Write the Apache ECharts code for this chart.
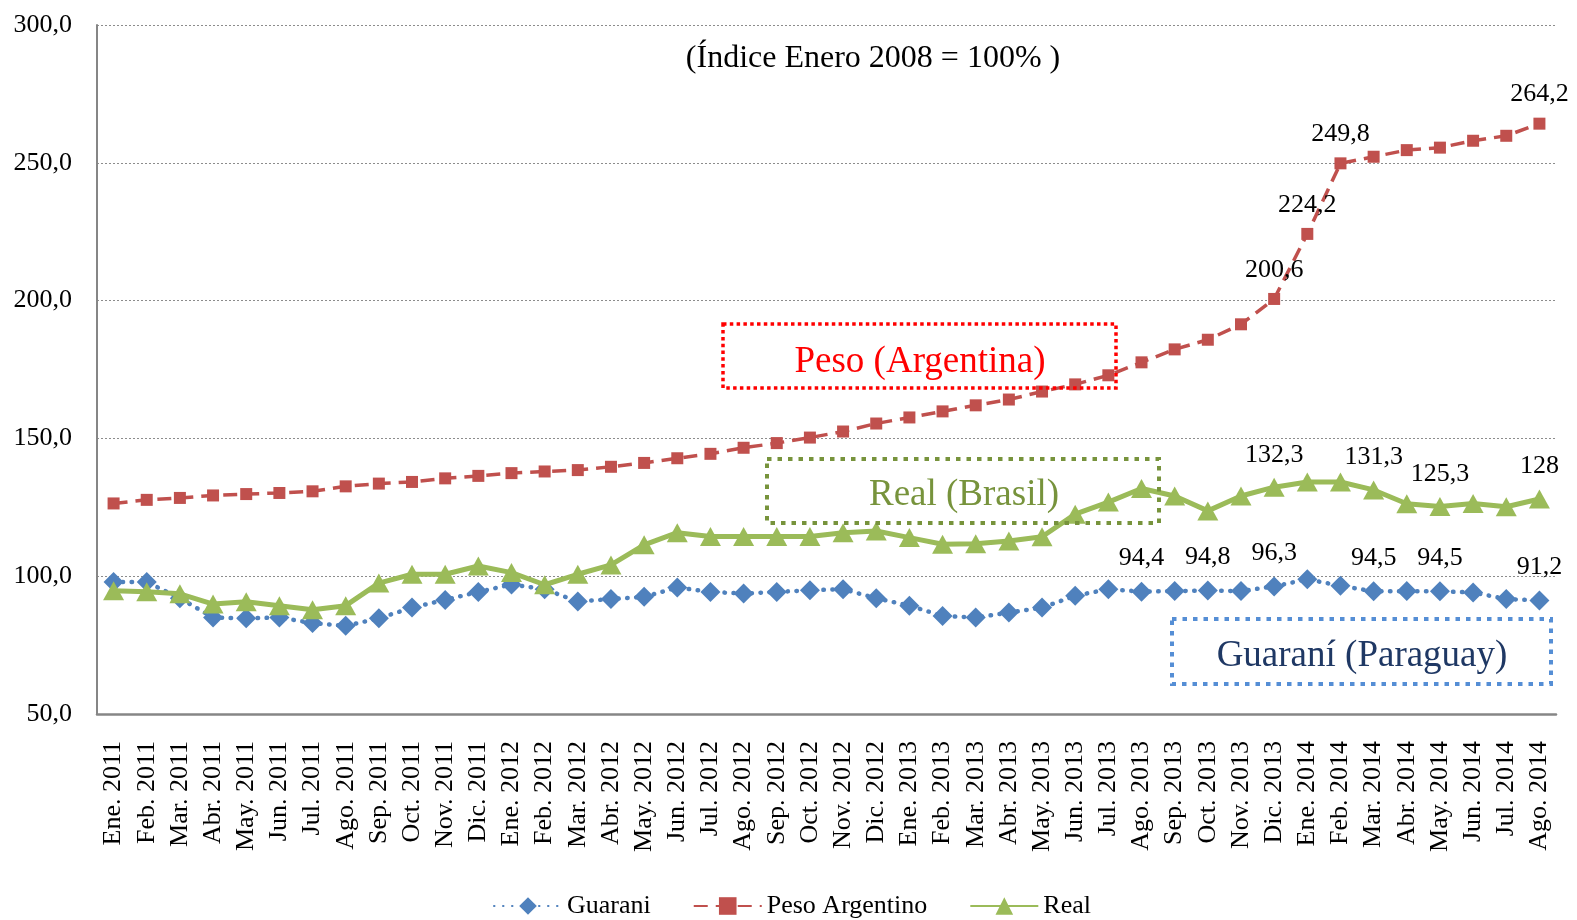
<!DOCTYPE html>
<html>
<head>
<meta charset="utf-8">
<script src="https://cdn.jsdelivr.net/npm/echarts@6/dist/echarts.min.js"></script>
<style>
html,body{margin:0;padding:0;background:#fff;}
#chart{width:1577px;height:920px;}
</style>
</head>
<body>
<div id="chart"></div>
<script>
const categories = [
  'Ene. 2011','Feb. 2011','Mar. 2011','Abr. 2011','May. 2011','Jun. 2011','Jul. 2011','Ago. 2011','Sep. 2011','Oct. 2011','Nov. 2011','Dic. 2011',
  'Ene. 2012','Feb. 2012','Mar. 2012','Abr. 2012','May. 2012','Jun. 2012','Jul. 2012','Ago. 2012','Sep. 2012','Oct. 2012','Nov. 2012','Dic. 2012',
  'Ene. 2013','Feb. 2013','Mar. 2013','Abr. 2013','May. 2013','Jun. 2013','Jul. 2013','Ago. 2013','Sep. 2013','Oct. 2013','Nov. 2013','Dic. 2013',
  'Ene. 2014','Feb. 2014','Mar. 2014','Abr. 2014','May. 2014','Jun. 2014','Jul. 2014','Ago. 2014'
];
const seriesNames = ['Guarani', 'Peso Argentino', 'Real'];
const guarani = [
  97.9, 97.9, 92.0, 85.0, 84.7, 85.0, 83.0, 82.0, 84.7, 88.6, 91.4, 94.3,
  97.0, 95.3, 90.8, 91.7, 92.5, 95.9, 94.3, 93.7, 94.3, 94.9, 95.3, 92.0,
  89.3, 85.6, 85.0, 86.8, 88.6, 92.9, 95.3, 94.4, 94.6, 94.8, 94.6, 96.3,
  98.9, 96.5, 94.5, 94.6, 94.5, 94.1, 91.7, 91.2
];
const peso = [
  126.4, 127.7, 128.4, 129.3, 129.8, 130.2, 130.8, 132.6, 133.6, 134.2, 135.5, 136.4,
  137.4, 138.0, 138.5, 139.7, 141.1, 142.8, 144.4, 146.6, 148.3, 150.3, 152.5, 155.4,
  157.6, 159.8, 162.0, 164.1, 167.0, 169.6, 172.9, 177.6, 182.3, 185.8, 191.4, 200.6,
  224.2, 249.8, 252.2, 254.6, 255.5, 258.0, 259.8, 264.2
];
const real = [
  94.7, 94.4, 93.6, 89.9, 90.7, 89.3, 87.8, 89.3, 97.5, 100.7, 100.7, 103.7,
  101.3, 96.9, 100.7, 104.1, 111.4, 115.8, 114.4, 114.4, 114.4, 114.4, 115.8, 116.4,
  114.0, 111.6, 111.8, 112.8, 114.3, 122.5, 126.9, 131.8, 129.1, 123.7, 129.1, 132.3,
  134.2, 134.2, 131.3, 126.3, 125.3, 126.4, 125.2, 128
];
const guaraniLabelIdx = [31, 33, 35, 38, 40, 43];
const pesoLabelIdx = [35, 36, 37, 43];
const realLabelIdx = [35, 38, 40, 43];
const yTicks = [50, 100, 150, 200, 250, 300];
const subtitle = '(Índice Enero 2008 = 100% )';
const boxTexts = ['Peso (Argentina)', 'Real (Brasil)', 'Guaraní (Paraguay)'];

const FONT = "'Liberation Serif','Times New Roman',serif";
const fmt = v => String(v).replace('.', ',');
function withLabels(arr, idx) {
  return arr.map((v, i) => idx.includes(i) ? { value: v, label: { show: true } } : v);
}
const labelBase = {
  show: false, position: 'top', distance: 10, fontFamily: FONT, fontSize: 26, color: '#000',
  formatter: p => fmt(p.value)
};

const chart = echarts.init(document.getElementById('chart'), null, { renderer: 'canvas' });
chart.setOption({
  animation: false,
  backgroundColor: '#fff',
  textStyle: { fontFamily: FONT },
  grid: { left: 97, right: 21, top: 25, bottom: 206, containLabel: false },
  legend: {
    data: seriesNames,
    left: 488, top: 888,
    itemWidth: 68, itemHeight: 22, itemGap: 42,
    textStyle: { fontFamily: FONT, fontSize: 26, color: '#000' }
  },
  xAxis: {
    type: 'category',
    data: categories,
    boundaryGap: true,
    axisLine: { lineStyle: { color: '#868686', width: 2.5 } },
    axisTick: { show: false },
    axisLabel: { rotate: 90, interval: 0, margin: 27, fontFamily: FONT, fontSize: 26, color: '#000' },
    splitLine: { show: false }
  },
  yAxis: {
    type: 'value',
    min: yTicks[0], max: yTicks[yTicks.length - 1], interval: 50,
    axisLine: { show: true, lineStyle: { color: '#868686', width: 2 } },
    axisTick: { show: false },
    axisLabel: { margin: 25, fontFamily: FONT, fontSize: 26, color: '#000', formatter: v => v.toFixed(1).replace('.', ',') },
    splitLine: { show: true, lineStyle: { color: '#8c8c8c', width: 1, type: [2, 2] } }
  },
  series: [
    {
      name: seriesNames[0], type: 'line', data: withLabels(guarani, guaraniLabelIdx),
      symbol: 'diamond', symbolSize: [20, 20],
      itemStyle: { color: '#4F81BD' },
      lineStyle: { color: '#4F81BD', width: 4.5, type: [0.5, 8.5], cap: 'round' },
      label: labelBase, z: 2
    },
    {
      name: seriesNames[1], type: 'line', data: withLabels(peso, pesoLabelIdx),
      symbol: 'rect', symbolSize: 12,
      itemStyle: { color: '#C0504D' },
      lineStyle: { color: '#C0504D', width: 3.5, type: [14, 8] },
      label: labelBase, z: 3
    },
    {
      name: seriesNames[2], type: 'line', data: withLabels(real, realLabelIdx),
      symbol: 'triangle', symbolSize: [21, 19],
      itemStyle: { color: '#9BBB59' },
      lineStyle: { color: '#9BBB59', width: 5 },
      label: labelBase, z: 4
    }
  ],
  graphic: [
    { type: 'text', x: 873, y: 59, z: 10,
      style: { text: subtitle, font: "32px " + FONT, fill: '#000', textAlign: 'center', textVerticalAlign: 'middle' } },
    { type: 'rect', z: 10, shape: { x: 723, y: 324, width: 393, height: 64 },
      style: { fill: null, stroke: '#FF0000', lineWidth: 3.5, lineDash: [3.5, 3.3] } },
    { type: 'text', x: 920, y: 362, z: 11,
      style: { text: boxTexts[0], font: "37px " + FONT, fill: '#FF0000', textAlign: 'center', textVerticalAlign: 'middle' } },
    { type: 'rect', z: 10, shape: { x: 767, y: 459, width: 392, height: 64 },
      style: { fill: null, stroke: '#77933C', lineWidth: 4, lineDash: [4.5, 6] } },
    { type: 'text', x: 964, y: 495, z: 11,
      style: { text: boxTexts[1], font: "37px " + FONT, fill: '#77933C', textAlign: 'center', textVerticalAlign: 'middle' } },
    { type: 'rect', z: 10, shape: { x: 1172, y: 619, width: 379, height: 65 },
      style: { fill: null, stroke: '#558ED5', lineWidth: 4, lineDash: [4.5, 6] } },
    { type: 'text', x: 1362, y: 656, z: 11,
      style: { text: boxTexts[2], font: "37px " + FONT, fill: '#1F3864', textAlign: 'center', textVerticalAlign: 'middle' } }
  ]
});
</script>
</body>
</html>
